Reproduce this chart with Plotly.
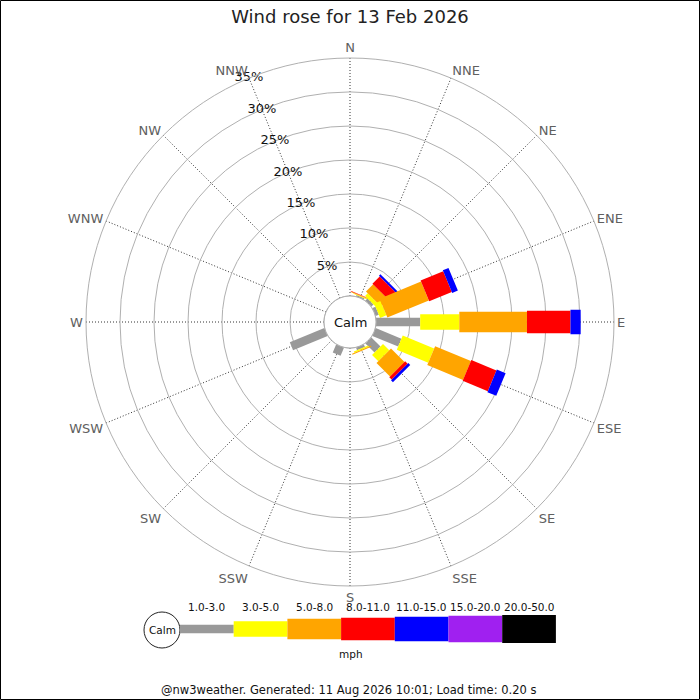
import math

import plotly.graph_objects as go

# 16 compass points, clockwise from north
DIRECTIONS = ['N', 'NNE', 'NE', 'ENE', 'E', 'ESE', 'SE', 'SSE',
              'S', 'SSW', 'SW', 'WSW', 'W', 'WNW', 'NW', 'NNW']
BEARINGS = [0, 22.5, 45, 67.5, 90, 112.5, 135, 157.5,
            180, 202.5, 225, 247.5, 270, 292.5, 315, 337.5]

SPEED_BANDS = ['1.0-3.0', '3.0-5.0', '5.0-8.0', '8.0-11.0',
               '11.0-15.0', '15.0-20.0', '20.0-50.0']
BAND_COLORS = ['#999999', '#FFFF00', '#FFA500', '#FF0000',
               '#0000FF', '#A020F0', '#000000']

# % of time per direction in each speed band (mph)
PCT_1_3 = [0, 0.2, 0.45, 0.5, 6.5, 4.1, 1.9, 0.4, 0, 1.3, 0, 5.5, 0, 0, 0, 0]
PCT_3_5 = [0, 0.1, 0.55, 1.0, 5.75, 5.0, 1.3, 0.2, 0, 0, 0, 0, 0, 0, 0, 0]
PCT_5_8 = [0, 0.1, 1.5, 6.6, 9.95, 5.7, 2.8, 0.15, 0, 0, 0, 0, 0, 0, 0, 0]
PCT_8_11 = [0, 0.05, 1.5, 3.6, 6.4, 4.0, 0.5, 0, 0, 0, 0, 0, 0, 0, 0, 0]
PCT_11_15 = [0, 0, 0.3, 0.9, 1.5, 1.4, 0.4, 0, 0, 0, 0, 0, 0, 0, 0, 0]
PCT_15_20 = [0] * 16
PCT_20_50 = [0] * 16

RING_VALUES = [5, 10, 15, 20, 25, 30, 35]
RING_LABELS = ['5%', '10%', '15%', '20%', '25%', '30%', '35%']

TITLE = 'Wind rose for 13 Feb 2026'
FOOTER = '@nw3weather. Generated: 11 Aug 2026 10:01; Load time: 0.20 s'

FONT = 'DejaVu Sans'
W = H = 700
CX, CY = 350, 322          # rose centre (px)
OUTER_PX = 264             # outer ring radius (px)
CALM_PX = 26               # calm circle radius (px)
HOLE = CALM_PX / OUTER_PX
R_MAX = 35
BAND_WIDTH_PX = [8.5, 15.5, 20.5, 22.5, 24.5, 26.5, 28]


def px(x):
    return x / W


def py(y):
    return 1 - y / H


def leg_polygon(bearing, p0, p1, width_px):
    """Rectangle of constant pixel width between p0 and p1 percent,
    expressed in polar (r, theta) so the polar axis places it."""
    hw = width_px / 2 / OUTER_PX
    rr, tt = [], []
    for p, side in ((p0, -1), (p1, -1), (p1, 1), (p0, 1), (p0, -1)):
        d = HOLE + (1 - HOLE) * p / R_MAX
        rn = math.hypot(d, hw)
        rr.append((rn - HOLE) / (1 - HOLE) * R_MAX)
        tt.append(bearing + side * math.degrees(math.atan2(hw, d)))
    return rr, tt


def text(x, y, s, size, color='#111111'):
    return dict(x=px(x), y=py(y), xref='paper', yref='paper', text=s,
                showarrow=False, xanchor='center', yanchor='middle',
                font=dict(family=FONT, size=size, color=color))


bands = [PCT_1_3, PCT_3_5, PCT_5_8, PCT_8_11, PCT_11_15, PCT_15_20, PCT_20_50]

fig = go.Figure()

for i, bearing in enumerate(BEARINGS):
    start = 0.0
    for b, vals in enumerate(bands):
        v = vals[i]
        if v <= 0:
            continue
        rr, tt = leg_polygon(bearing, start, start + v, BAND_WIDTH_PX[b])
        fig.add_trace(go.Scatterpolar(
            r=rr, theta=tt, mode='lines', fill='toself',
            fillcolor=BAND_COLORS[b], line=dict(width=0, color=BAND_COLORS[b]),
            hoverinfo='skip', showlegend=False,
        ))
        start += v

# calm circle outline at the hole edge
fig.add_trace(go.Scatterpolar(
    r=[0] * 73, theta=[k * 5 for k in range(73)], mode='lines',
    line=dict(color='#aaaaaa', width=1), hoverinfo='skip', showlegend=False,
    cliponaxis=False,
))

# ring labels along the NNW spoke
fig.add_trace(go.Scatterpolar(
    r=RING_VALUES, theta=[337.5] * len(RING_VALUES), mode='text',
    text=RING_LABELS, textposition='middle center',
    textfont=dict(family=FONT, size=13, color='#111111'),
    hoverinfo='skip', showlegend=False, cliponaxis=False,
))

fig.update_layout(
    width=W, height=H,
    margin=dict(l=0, r=0, t=0, b=0),
    paper_bgcolor='white',
    showlegend=False,
    font=dict(family=FONT, color='#222222'),
    title=dict(text=TITLE, x=0.5, xanchor='center', y=py(17), yanchor='middle',
               font=dict(family=FONT, size=18, color='#222222')),
    polar=dict(
        domain=dict(x=[px(CX - OUTER_PX), px(CX + OUTER_PX)],
                    y=[py(CY + OUTER_PX), py(CY - OUTER_PX)]),
        hole=HOLE,
        bgcolor='white',
        radialaxis=dict(range=[0, R_MAX], tickvals=RING_VALUES,
                        showticklabels=False, ticks='', showline=False,
                        gridcolor='#b0b0b0', gridwidth=1),
        angularaxis=dict(direction='clockwise', rotation=90,
                         tickmode='array', tickvals=BEARINGS,
                         ticktext=DIRECTIONS, ticks='',
                         tickfont=dict(family=FONT, size=13, color='#606060'),
                         showline=True, linecolor='#b0b0b0', linewidth=1,
                         gridcolor='#333333', griddash='1px,2px', gridwidth=1),
    ),
)

shapes = []
annotations = [text(CX, CY, 'Calm', 13)]

# speed key
KEY_X0, KEY_STEP, KEY_CY = 180, 53.7, 629
shapes.append(dict(type='circle', xref='paper', yref='paper',
                   x0=px(162 - 18), x1=px(162 + 18),
                   y0=py(630 + 18), y1=py(630 - 18),
                   line=dict(color='#222222', width=1), fillcolor='white'))
annotations.append(text(162, 630, 'Calm', 10.5))
for b, label in enumerate(SPEED_BANDS):
    x0 = KEY_X0 + b * KEY_STEP
    hw = BAND_WIDTH_PX[b] / 2
    shapes.append(dict(type='rect', xref='paper', yref='paper',
                       x0=px(x0), x1=px(x0 + KEY_STEP),
                       y0=py(KEY_CY + hw), y1=py(KEY_CY - hw),
                       line=dict(width=0), fillcolor=BAND_COLORS[b]))
    annotations.append(text(x0 + KEY_STEP / 2, 607, label, 10.5))
annotations.append(text(351, 654, 'mph', 10.5))
annotations.append(text(348, 690, FOOTER, 11.5))

# frame round the whole image
shapes.append(dict(type='rect', xref='paper', yref='paper',
                   x0=px(0.5), x1=px(699.5), y0=py(699.5), y1=py(0.5),
                   line=dict(color='black', width=1)))

fig.update_layout(shapes=shapes, annotations=annotations)

# page body margin would push the chart off by 8px
fig.write_html('out.html', config={'displayModeBar': False},
               post_script="document.body.style.margin='0';")
